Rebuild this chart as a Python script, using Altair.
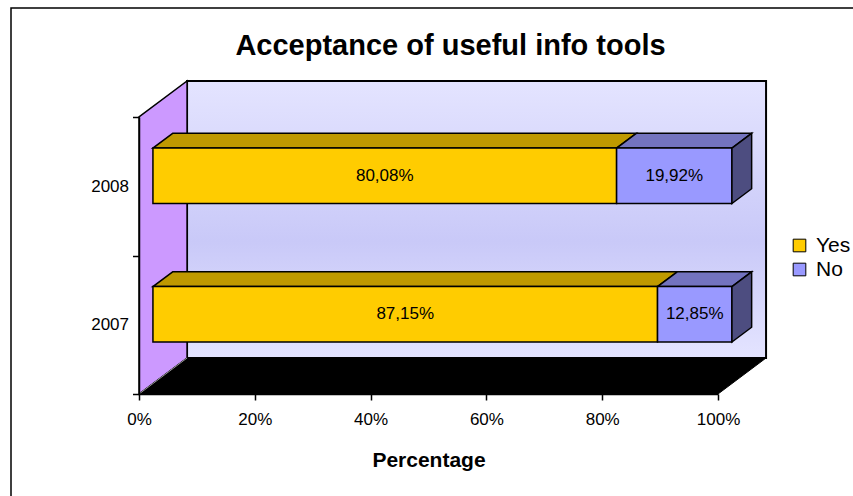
import altair as alt
import pandas as pd

# ---- values ----
years = ["2007", "2008"]
answers = ["Yes", "No"]
yes_share = [87.15, 80.08]
no_share = [12.85, 19.92]
pct_ticks = [0, 20, 40, 60, 80, 100]

# ---- styling ----
FONT = "Liberation Sans"
front_colors = ["#FFCC00", "#9999FF"]
top_colors = ["#BF9900", "#7373BF"]
side_color = "#4D4D80"
wall_color = "#CC99FF"

# 3-D box geometry, expressed in data units of the two scales
DX, DY = 8.3, 0.26      # depth of the walls along x (percent) and y (category units)
F0, F1 = 0.29, 0.70     # front / back of the bars inside that depth
HALF = 0.2              # half thickness of a bar
Y_MAX = len(years)

fronts, tops, sides = [], [], []
for i, year in enumerate(years):
    c = i + 0.5
    start = 0.0
    for j, (ans, val) in enumerate(zip(answers, [yes_share[i], no_share[i]])):
        end = start + val
        key = f"{year}-{ans}"
        fronts.append(dict(
            year=year, answer=ans,
            x=start + F0 * DX, x2=end + F0 * DX,
            y=c - HALF + F0 * DY, y2=c + HALF + F0 * DY,
            xm=(start + end) / 2 + F0 * DX, ym=c + F0 * DY,
            label=f"{val:.2f}".replace(".", ",") + "%",
        ))
        for f in (F0, F1):
            tops.append(dict(key=key, fill=top_colors[j], y=c + HALF + f * DY,
                             x=start + f * DX, x2=end + f * DX))
        start = end
    for f in (F0, F1):
        sides.append(dict(key=year, x=start + f * DX,
                          y=c - HALF + f * DY, y2=c + HALF + f * DY))

fronts = pd.DataFrame(fronts)
tops = pd.DataFrame(tops)
sides = pd.DataFrame(sides)
back_wall = pd.DataFrame({"x": [DX], "x2": [100 + DX], "y": [DY], "y2": [Y_MAX + DY]})
left_wall = pd.DataFrame({"x": [0, DX], "y": [0, DY], "y2": [Y_MAX, Y_MAX + DY]})
floor = pd.DataFrame({"y": [0, DY], "x": [0, DX], "x2": [100, 100 + DX]})
edge = pd.DataFrame({"x": [0], "x2": [DX], "y": [0], "y2": [DY]})

xs = alt.Scale(domain=[0, 100], nice=False, zero=False)
ys = alt.Scale(domain=[0, Y_MAX], nice=False, zero=False)

x_axis = alt.Axis(
    values=pct_ticks, labelExpr="datum.value + '%'", title="Percentage",
    grid=False, domainColor="black", domainWidth=1.5, tickColor="black",
    tickWidth=1.5, tickSize=6, labelFont=FONT, labelFontSize=17,
    labelColor="black", labelPadding=11, labelFlush=False, labelOverlap=False,
    titleFont=FONT, titleFontSize=21, titleFontWeight="bold",
    titleColor="black", titlePadding=22, zindex=1,
)
year_expr = " : ".join(
    f"datum.value == {i + 0.5} ? '{y}'" for i, y in enumerate(years)
) + " : ''"
y_axis = alt.Axis(
    values=[k / 2 for k in range(2 * Y_MAX + 1)], labelExpr=year_expr,
    title=None, grid=False, domainColor="black", domainWidth=1.5,
    tickColor="black", tickWidth=1.5, tickSize=6.5,
    tickOpacity={"condition": {"test": "datum.value % 1 != 0", "value": 0}, "value": 1},
    labelFont=FONT, labelFontSize=17, labelColor="black", labelPadding=4,
    labelFlush=False, labelOverlap=False, zindex=1,
)


def X(field):
    return alt.X(field, type="quantitative", scale=xs, axis=x_axis)


def Y(field):
    return alt.Y(field, type="quantitative", scale=ys, axis=y_axis)


wall_gradient = alt.Gradient(
    gradient="linear", x1=0, y1=0, x2=0, y2=1,
    stops=[alt.GradientStop(color="#E4E4FF", offset=0),
           alt.GradientStop(color="#C9C9F8", offset=0.58),
           alt.GradientStop(color="#E4E4FF", offset=1)],
)

# outer chart border (left and top edges fall inside the canvas)
frame = alt.Chart(pd.DataFrame({"k": [0]})).mark_rect(
    fill="transparent", stroke="black", strokeWidth=1.5
).encode(x=alt.value(-128), x2=alt.value(800), y=alt.value(-109), y2=alt.value(500))

back = alt.Chart(back_wall).mark_rect(
    fill=wall_gradient, stroke="black", strokeWidth=2
).encode(x=X("x"), x2="x2", y=Y("y"), y2="y2")

left = alt.Chart(left_wall).mark_area(
    orient="vertical", fill=wall_color, stroke="black", strokeWidth=1.5
).encode(x=X("x"), y=Y("y"), y2="y2")

ground = alt.Chart(floor).mark_area(
    orient="horizontal", fill="black", stroke="black", strokeWidth=1
).encode(y=Y("y"), x=X("x"), x2="x2")

ground_edge = alt.Chart(edge).mark_rule(color="#9A9A9A", strokeWidth=1).encode(
    x=X("x"), x2="x2", y=Y("y"), y2="y2"
)

top_faces = alt.Chart(tops).mark_area(
    orient="horizontal", stroke="black", strokeWidth=1.5
).encode(
    y=Y("y"), x=X("x"), x2="x2",
    fill=alt.Fill("fill:N", scale=None), detail="key:N",
)

front_faces = alt.Chart(fronts).mark_rect(stroke="black", strokeWidth=1.5).encode(
    x=X("x"), x2="x2", y=Y("y"), y2="y2",
    color=alt.Color(
        "answer:N",
        scale=alt.Scale(domain=answers, range=front_colors),
        sort=answers,
        legend=alt.Legend(
            title=None, orient="none", legendX=650, legendY=118,
            symbolType="square", symbolSize=160, symbolStrokeColor="black",
            symbolStrokeWidth=1, labelFont=FONT, labelFontSize=21,
            labelColor="black", labelOffset=6, rowPadding=2, padding=0,
        ),
    ),
)

side_faces = alt.Chart(sides).mark_area(
    orient="vertical", fill=side_color, stroke="black", strokeWidth=1.5
).encode(x=X("x"), y=Y("y"), y2="y2", detail="key:N")

labels = alt.Chart(fronts).mark_text(
    font=FONT, fontSize=17, color="black", baseline="middle", align="center"
).encode(x=X("xm"), y=Y("ym"), text="label:N")

chart = alt.layer(
    frame, back, left, ground, ground_edge, top_faces, front_faces, side_faces, labels
).properties(
    width=579,
    height=277,
    autosize=alt.AutoSizeParams(type="none"),
    padding={"left": 139, "top": 117, "right": 135, "bottom": 102},
    background="white",
    title=alt.TitleParams(
        text="Acceptance of useful info tools", font=FONT, fontSize=29,
        fontWeight="bold", color="black", anchor="middle", frame="group",
        dx=22, offset=-77, baseline="alphabetic",
    ),
).configure_view(stroke=None)

chart.save("out.html", embed_options={"renderer": "svg", "actions": False})
